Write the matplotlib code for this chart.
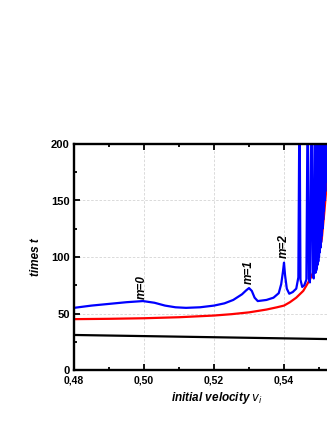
import numpy as np
import matplotlib.pyplot as plt
from matplotlib.ticker import MultipleLocator, FixedLocator

plt.rcParams['font.family'] = ['Liberation Sans', 'DejaVu Sans']

# black curve
vi_black = [0.480, 0.500, 0.520, 0.540, 0.556]
t_black = [31.0, 30.0, 29.0, 28.0, 27.2]

# red curve
vi_red = [0.480, 0.490, 0.500, 0.510, 0.520, 0.525, 0.530, 0.535, 0.538, 0.540,
          0.5417, 0.5435, 0.5455, 0.5474, 0.5485, 0.5493, 0.5500, 0.5508,
          0.5515, 0.5520, 0.5526, 0.5532]
t_red = [45.0, 45.3, 45.8, 46.7, 48.2, 49.4, 51.0, 53.5, 55.5, 57.0,
         60.0, 64.0, 70.0, 80.0, 87.5, 95.0, 104.0, 116.0,
         139.0, 157.0, 185.0, 215.0]

# blue curve
vi_blue = [0.480, 0.485, 0.490, 0.495, 0.4997, 0.503, 0.506, 0.509, 0.512, 0.516,
           0.520, 0.523, 0.5255, 0.528, 0.5292, 0.5300, 0.5308, 0.5316, 0.5325,
           0.535, 0.537, 0.5385, 0.5392, 0.5397, 0.5400, 0.5403, 0.5408, 0.5415,
           0.5425, 0.5435, 0.5441, 0.54443, 0.5447, 0.5452, 0.5458, 0.5464,
           0.54677, 0.5471, 0.5474, 0.54791, 0.5482, 0.5485,
           0.54886, 0.5490, 0.5491, 0.5492, 0.5493, 0.5494, 0.5495, 0.5496,
           0.5497, 0.5498, 0.5499, 0.5500, 0.5501, 0.5502, 0.5503, 0.5504,
           0.5505, 0.5506, 0.5507, 0.5508, 0.5509, 0.5510, 0.5511, 0.5512,
           0.5513, 0.5514, 0.5515, 0.5516, 0.5517, 0.5518, 0.5519, 0.5520,
           0.5521, 0.5522, 0.5523, 0.5524, 0.5525, 0.5526, 0.5527]
t_blue = [55.0, 57.0, 58.5, 60.0, 61.0, 59.5, 57.0, 55.5, 55.0, 55.5,
          57.0, 59.0, 62.0, 67.0, 70.5, 72.5, 70.0, 64.0, 61.0,
          62.0, 64.0, 68.0, 76.0, 87.0, 95.0, 84.0, 72.0, 67.5,
          69.0, 72.0, 82.0, 250.0, 80.0, 73.5, 75.0, 80.0,
          250.0, 81.0, 77.5, 250.0, 83.0, 81.0,
          250.0, 86.0, 250.0, 88.0, 250.0, 90.0, 250.0, 93.0,
          250.0, 96.0, 250.0, 100.0, 250.0, 104.0, 250.0, 108.0,
          250.0, 113.0, 250.0, 119.0, 250.0, 125.0, 250.0, 133.0,
          250.0, 141.0, 250.0, 150.0, 250.0, 158.0, 250.0, 167.0,
          250.0, 176.0, 250.0, 186.0, 250.0, 196.0, 250.0]

x_ticks = [0.48, 0.50, 0.52, 0.54]
x_labels = ['0,48', '0,50', '0,52', '0,54']
y_ticks = [0, 50, 100, 150, 200]

labels = ['m=0', 'm=1', 'm=2']
label_x = [0.4995, 0.5298, 0.5398]
label_y = [63, 76, 99]

fig = plt.figure(figsize=(3.27, 4.23), dpi=100)
ax = fig.add_axes([74 / 327, 53 / 423, 280 / 327, 226 / 423])

ax.plot(vi_black, t_black, color='black', lw=1.6)
ax.plot(vi_red, t_red, color='red', lw=1.6)
ax.plot(vi_blue, t_blue, color='blue', lw=1.6)

for s, x, y in zip(labels, label_x, label_y):
    ax.text(x, y, s, rotation=90, ha='center', va='bottom', fontsize=8.5,
            fontweight='bold', fontstyle='italic')

ax.set_xlim(0.48, 0.56)
ax.set_ylim(0, 200)
ax.xaxis.set_major_locator(FixedLocator(x_ticks))
ax.set_xticklabels(x_labels)
ax.xaxis.set_minor_locator(MultipleLocator(0.01))
ax.yaxis.set_major_locator(FixedLocator(y_ticks))
ax.yaxis.set_minor_locator(MultipleLocator(25))
ax.tick_params(which='both', direction='in', top=True, right=True, width=1.3,
               labelsize=8, pad=3)
ax.tick_params(axis='x', labelsize=7.5, pad=4)
ax.tick_params(which='major', length=4)
ax.tick_params(which='minor', length=2.5)
for lab in ax.get_xticklabels() + ax.get_yticklabels():
    lab.set_fontweight('bold')
for sp in ax.spines.values():
    sp.set_linewidth(1.7)

ax.grid(True, which='major', color='#d4d4d4', ls=(0, (3, 2)), lw=0.6)

ax.set_ylabel('times t', fontsize=8.5, fontweight='bold', fontstyle='italic')
ax.yaxis.set_label_coords(-32 / 280, 0.5)
fig.text(217 / 327, 1 - 398 / 423, r'initial velocity $\mathbf{\it{v_i}}$',
         ha='center', va='center', fontsize=8.5, fontweight='bold', fontstyle='italic')

fig.savefig('out.png', dpi=100)
